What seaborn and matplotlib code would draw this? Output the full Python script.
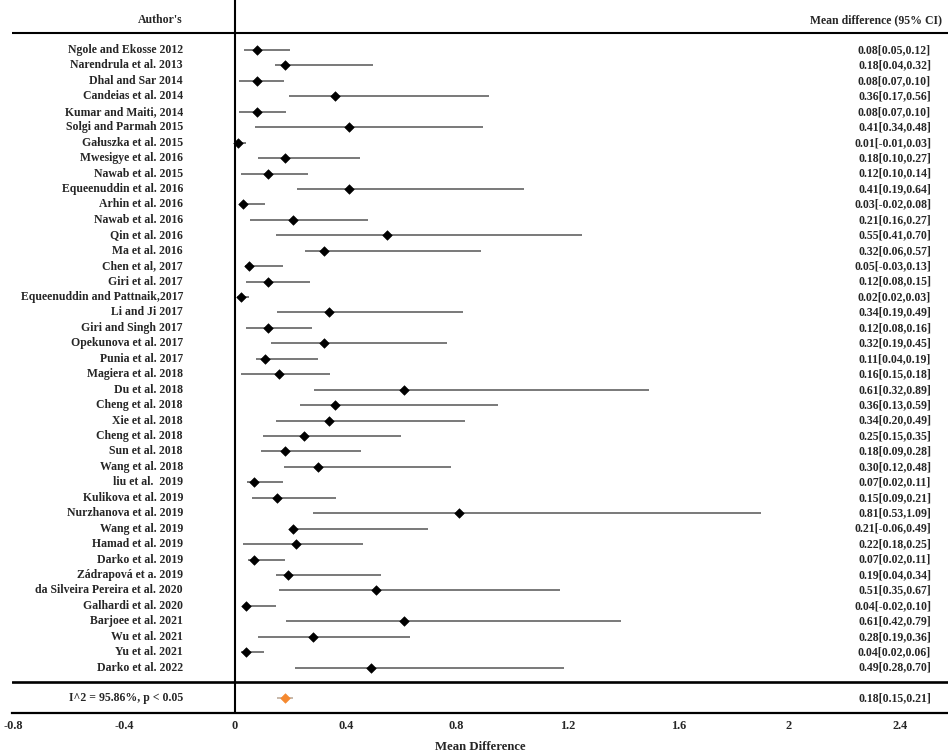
import numpy as np
import pandas as pd
import matplotlib
matplotlib.use('Agg')
import matplotlib.pyplot as plt
import seaborn as sns

# studies, top to bottom
authors = ['Ngole and Ekosse 2012', 'Narendrula et al. 2013', 'Dhal and Sar 2014',
           'Candeias et al. 2014', 'Kumar and Maiti, 2014', 'Solgi and Parmah 2015',
           'Gałuszka et al. 2015', 'Mwesigye et al. 2016', 'Nawab et al. 2015',
           'Equeenuddin et al. 2016', 'Arhin et al. 2016', 'Nawab et al. 2016',
           'Qin et al. 2016', 'Ma et al. 2016', 'Chen et al, 2017', 'Giri et al. 2017',
           'Equeenuddin and Pattnaik,2017', 'Li and Ji 2017', 'Giri and Singh 2017',
           'Opekunova et al. 2017', 'Punia et al. 2017', 'Magiera et al. 2018',
           'Du et al. 2018', 'Cheng et al. 2018', 'Xie et al. 2018', 'Cheng et al. 2018',
           'Sun et al. 2018', 'Wang et al. 2018', 'liu et al.  2019', 'Kulikova et al. 2019',
           'Nurzhanova et al. 2019', 'Wang et al. 2019', 'Hamad et al. 2019',
           'Darko et al. 2019', 'Zádrapová et a. 2019', 'da Silveira Pereira et al. 2020',
           'Galhardi et al. 2020', 'Barjoee et al. 2021', 'Wu et al. 2021', 'Yu et al. 2021',
           'Darko et al. 2022']

# printed values (right column)
mean_diff = [0.08, 0.18, 0.08, 0.36, 0.08, 0.41, 0.01, 0.18, 0.12, 0.41, 0.03, 0.21, 0.55,
             0.32, 0.05, 0.12, 0.02, 0.34, 0.12, 0.32, 0.11, 0.16, 0.61, 0.36, 0.34, 0.25,
             0.18, 0.30, 0.07, 0.15, 0.81, 0.21, 0.22, 0.07, 0.19, 0.51, 0.04, 0.61, 0.28,
             0.04, 0.49]
ci_low = [0.05, 0.04, 0.07, 0.17, 0.07, 0.34, -0.01, 0.10, 0.10, 0.19, -0.02, 0.16, 0.41,
          0.06, -0.03, 0.08, 0.02, 0.19, 0.08, 0.19, 0.04, 0.15, 0.32, 0.13, 0.20, 0.15,
          0.09, 0.12, 0.02, 0.09, 0.53, -0.06, 0.18, 0.02, 0.04, 0.35, -0.02, 0.42, 0.19,
          0.02, 0.28]
ci_high = [0.12, 0.32, 0.10, 0.56, 0.10, 0.48, 0.03, 0.27, 0.14, 0.64, 0.08, 0.27, 0.70,
           0.57, 0.13, 0.15, 0.03, 0.49, 0.16, 0.45, 0.19, 0.18, 0.89, 0.59, 0.49, 0.35,
           0.28, 0.48, 0.11, 0.21, 1.09, 0.49, 0.25, 0.11, 0.34, 0.67, 0.10, 0.79, 0.36,
           0.06, 0.70]

# whisker ends as drawn in the figure (they do not follow the printed CI)
line_low = [0.034, 0.144, 0.015, 0.194, 0.015, 0.071, -0.004, 0.084, 0.021, 0.223, 0.018,
            0.055, 0.147, 0.254, 0.035, 0.040, 0.009, 0.150, 0.040, 0.130, 0.075, 0.021,
            0.286, 0.234, 0.147, 0.100, 0.094, 0.178, 0.044, 0.060, 0.282, 0.203, 0.030,
            0.048, 0.147, 0.160, 0.030, 0.184, 0.084, 0.021, 0.216]
line_high = [0.200, 0.500, 0.178, 0.917, 0.184, 0.896, 0.040, 0.450, 0.263, 1.043, 0.110,
             0.481, 1.251, 0.887, 0.172, 0.269, 0.049, 0.823, 0.279, 0.767, 0.298, 0.343,
             1.495, 0.951, 0.830, 0.600, 0.455, 0.779, 0.175, 0.366, 1.900, 0.697, 0.462,
             0.182, 0.526, 1.174, 0.147, 1.395, 0.633, 0.103, 1.189]

pooled_label = 'I^2 = 95.86%, p < 0.05'
pooled_mean = 0.18
pooled_low = 0.15
pooled_high = 0.21
pooled_line = [0.153, 0.211]

xticks = [-0.8, -0.4, 0, 0.4, 0.8, 1.2, 1.6, 2, 2.4]
xtick_labels = ['-0.8', '-0.4', '0', '0.4', '0.8', '1.2', '1.6', '2', '2.4']

sns.set_theme(style='white')
plt.rcParams['font.family'] = ['Liberation Serif', 'DejaVu Serif']
plt.rcParams['font.weight'] = 'bold'

W, H = 948, 755
fig = plt.figure(figsize=(W / 100, H / 100), dpi=100)
ax = fig.add_axes([12 / W, 41.7 / H, 1 - 12 / W, 1 - 41.7 / H])

df = pd.DataFrame({'author': authors, 'md': mean_diff, 'lo': line_low, 'hi': line_high})
df['row'] = np.arange(len(df))

ax.hlines(df['row'], df['lo'], df['hi'], color='#555555', lw=1.1, zorder=2)
sns.scatterplot(data=df, x='md', y='row', marker='D', color='black', s=24,
                edgecolor='black', linewidth=0.4, ax=ax, zorder=3, legend=False)

pooled_row = len(df) + 1
ax.hlines(pooled_row, pooled_line[0], pooled_line[1], color='#b8a594', lw=1.1, zorder=2)
ax.scatter([pooled_mean], [pooled_row], marker='D', s=24, color='#f5892f',
           edgecolor='#f5892f', linewidth=0.4, zorder=3)

# frame lines
ax.axvline(0, color='black', lw=1.5, zorder=1)
ax.axhline(-1.1, color='black', lw=1.5)
ax.axhline(len(df) - 0.05, color='black', lw=1.9)

fs = 8.5
lab_x = -0.188
val_x = 2.513
ax.text(lab_x, -1.94, "Author's", ha='right', va='center', fontsize=fs, fontweight='bold')
ax.text(2.552, -1.94, 'Mean difference (95% CI)', ha='right', va='center', fontsize=fs,
        fontweight='bold')
for i, row in df.iterrows():
    ax.text(lab_x, row['row'], row['author'], ha='right', va='center', fontsize=fs,
            fontweight='bold')
    ax.text(val_x, row['row'], f"{mean_diff[i]:.2f}[{ci_low[i]:.2f},{ci_high[i]:.2f}]",
            ha='right', va='center', fontsize=fs, fontweight='bold')
ax.text(lab_x, pooled_row, pooled_label, ha='right', va='center', fontsize=fs,
        fontweight='bold')
ax.text(val_x, pooled_row, f"{pooled_mean:.2f}[{pooled_low:.2f},{pooled_high:.2f}]",
        ha='right', va='center', fontsize=fs, fontweight='bold')

ax.set_xlim(-0.805, 2.574)
ax.set_ylim(42.96, -3.24)
ax.set_xticks(xticks)
ax.set_xticklabels(xtick_labels, fontsize=8.8, fontweight='bold')
ax.set_yticks([])
ax.set_ylabel('')
ax.tick_params(axis='x', length=0, pad=5)
ax.set_xlabel('Mean Difference', fontsize=9.2, fontweight='bold', labelpad=6)
for side in ['top', 'left', 'right']:
    ax.spines[side].set_visible(False)
ax.spines['bottom'].set_color('black')
ax.spines['bottom'].set_linewidth(1.6)

fig.savefig('out.png', dpi=100, facecolor='white')
